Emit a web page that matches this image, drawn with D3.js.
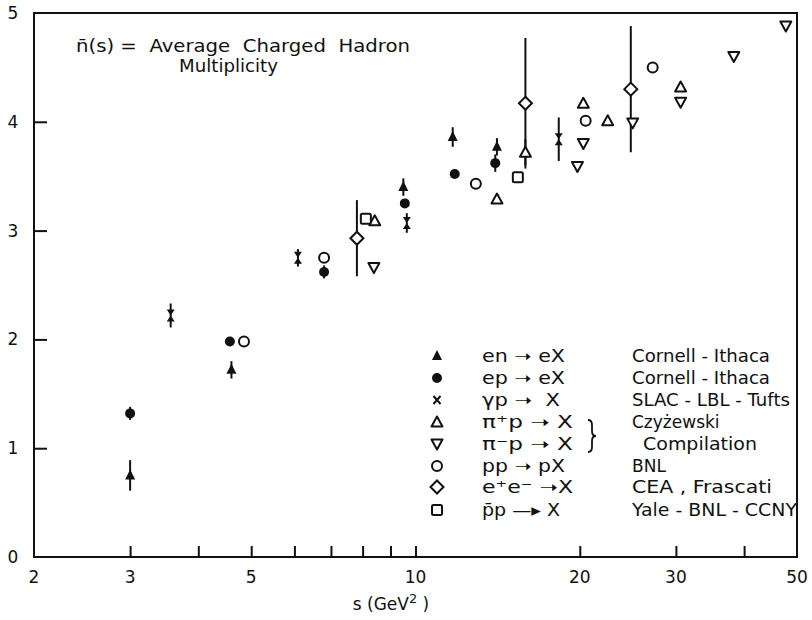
<!DOCTYPE html>
<html><head><meta charset="utf-8">
<script src="https://cdn.jsdelivr.net/npm/d3@7/dist/d3.min.js"></script>
<style>
body{margin:0;background:#fff}
text{font-family:"DejaVu Sans",sans-serif;fill:#111;white-space:pre}
</style>
</head><body>
<svg id="c" width="812" height="620"></svg>
<script>
// ---- data (s in GeV^2, n = average charged multiplicity) ----
const xTickValues = [3,4,5,6,7,8,9,10,20,30,40];
const xTickLabels = [2,3,5,10,20,30,50];
const yTickValues = [1,2,3,4];
const yTickLabels = [0,1,2,3,4,5];

const enS   = [3.0, 4.6, 9.5, 11.7, 14.1];
const enN   = [0.75, 1.72, 3.40, 3.86, 3.77];
const enErr = [0.14, 0.08, 0.08, 0.09, 0.08];

const epS   = [3.0, 4.57, 6.8, 9.56, 11.8, 14.0];
const epN   = [1.32, 1.98, 2.62, 3.25, 3.52, 3.62];
const epErr = [0.06, 0, 0.06, 0, 0, 0.08];

const gpS   = [3.56, 6.09, 9.64, 18.3];
const gpN   = [2.22, 2.75, 3.07, 3.84];
const gpErr = [0.11, 0.08, 0.09, 0.2];

const pipS  = [8.42, 14.1, 15.9, 20.3, 22.5, 30.6];
const pipN  = [3.09, 3.29, 3.72, 4.17, 4.01, 4.32];
const pipErr= [0, 0, 0.12, 0, 0, 0];

const pimS  = [8.39, 19.8, 20.3, 25.0, 30.6, 38.3, 47.7];
const pimN  = [2.66, 3.59, 3.80, 3.99, 4.18, 4.60, 4.88];

const ppS   = [4.85, 6.8, 12.9, 20.5, 27.2];
const ppN   = [1.98, 2.75, 3.43, 4.01, 4.50];

const eeS   = [7.81, 15.9, 24.8];
const eeN   = [2.93, 4.17, 4.30];
const eeErr = [0.35, 0.6, 0.58];

const pbS   = [8.11, 15.4];
const pbN   = [3.11, 3.49];

const legendReactions = ["en \u279D eX", "ep \u279D eX", "\u03B3p \u279D  X", "\u03C0\u207Ap \u279D X", "\u03C0\u207Bp \u279D X", "pp \u279D pX", "e\u207Ae\u207B \u279DX", "p\u0304p \u2014\u25B8 X"];
const legendSources = ["Cornell - Ithaca", "Cornell - Ithaca", "SLAC - LBL - Tufts", "Czy\u017Cewski", " Compilation", "BNL", "CEA , Frascati", "Yale - BNL - CCNY"];

// ---- drawing ----
const svg = d3.select("#c");
const x = d3.scaleLog().domain([2, 50]).range([34, 797]);
const y = d3.scaleLinear().domain([0, 5]).range([557, 13]);
const ink = "#111";

// frame
svg.append("rect").attr("x", x(2)).attr("y", y(5))
  .attr("width", x(50) - x(2)).attr("height", y(0) - y(5))
  .attr("fill", "none").attr("stroke", ink).attr("stroke-width", 2);

// ticks (inside)
const xAxis = d3.axisBottom(x).tickValues(xTickValues).tickSize(-11).tickFormat("");
const gx = svg.append("g").attr("transform", `translate(0,${y(0)})`).call(xAxis);
gx.select(".domain").remove();
gx.selectAll("line").attr("stroke", ink).attr("stroke-width", 2);

const yAxis = d3.axisLeft(y).tickValues(yTickValues).tickSize(-13).tickFormat("");
const gy = svg.append("g").attr("transform", `translate(${x(2)},0)`).call(yAxis);
gy.select(".domain").remove();
gy.selectAll("line").attr("stroke", ink).attr("stroke-width", 2);

// tick labels
svg.selectAll("text.xl").data(xTickLabels).join("text").attr("class", "xl")
  .attr("x", d => x(d)).attr("y", 577).attr("dy", "0.35em")
  .attr("text-anchor", "middle").attr("font-size", 17).text(d => d);
svg.selectAll("text.yl").data(yTickLabels).join("text").attr("class", "yl")
  .attr("x", 13).attr("y", d => y(d)).attr("dy", "0.35em")
  .attr("text-anchor", "middle").attr("font-size", 17).text(d => d);

// axis title
const xt = svg.append("text").attr("x", 391).attr("y", 604).attr("dy", "0.35em")
  .attr("text-anchor", "middle").attr("font-size", 17);
xt.append("tspan").text("s (GeV");
xt.append("tspan").attr("dy", -7).attr("font-size", 13).text("2");
xt.append("tspan").attr("dy", 7).text(" )");

// title
svg.append("text").attr("x", 76).attr("y", 46).attr("dy", "0.35em").attr("font-size", 17)
  .attr("textLength", 334).attr("lengthAdjust", "spacingAndGlyphs")
  .text("n\u0304(s) =  Average  Charged  Hadron");
svg.append("text").attr("x", 179).attr("y", 66).attr("dy", "0.35em").attr("font-size", 17)
  .attr("textLength", 99).attr("lengthAdjust", "spacingAndGlyphs").text("Multiplicity");

// marker shapes
function drawMarker(g, type, cx, cy) {
  const sw = 2;
  if (type === "triF") {
    g.append("path").attr("d", `M${cx},${cy-6}L${cx+5},${cy+4}L${cx-5},${cy+4}Z`).attr("fill", ink);
  } else if (type === "circF") {
    g.append("circle").attr("cx", cx).attr("cy", cy).attr("r", 5).attr("fill", ink);
  } else if (type === "hour") {
    g.append("path").attr("d", `M${cx-4},${cy-6}L${cx+4},${cy-6}L${cx},${cy}L${cx+4},${cy+6}L${cx-4},${cy+6}L${cx},${cy}Z`).attr("fill", ink);
  } else if (type === "triU") {
    g.append("path").attr("d", `M${cx},${cy-5.5}L${cx+5.5},${cy+4.5}L${cx-5.5},${cy+4.5}Z`).attr("fill", "#fff").attr("stroke", ink).attr("stroke-width", sw).attr("stroke-linejoin", "round");
  } else if (type === "triD") {
    g.append("path").attr("d", `M${cx},${cy+5.5}L${cx+5.5},${cy-4.5}L${cx-5.5},${cy-4.5}Z`).attr("fill", "#fff").attr("stroke", ink).attr("stroke-width", sw).attr("stroke-linejoin", "round");
  } else if (type === "circO") {
    g.append("circle").attr("cx", cx).attr("cy", cy).attr("r", 5).attr("fill", "#fff").attr("stroke", ink).attr("stroke-width", sw);
  } else if (type === "diam") {
    g.append("path").attr("d", `M${cx},${cy-6.5}L${cx+6.5},${cy}L${cx},${cy+6.5}L${cx-6.5},${cy}Z`).attr("fill", "#fff").attr("stroke", ink).attr("stroke-width", sw);
  } else if (type === "sq") {
    g.append("rect").attr("x", cx-5).attr("y", cy-5).attr("width", 10).attr("height", 10).attr("rx", 1.5)
      .attr("fill", "#fff").attr("stroke", ink).attr("stroke-width", sw);
  } else if (type === "xmark") {
    g.append("path").attr("d", `M${cx-3.5},${cy-4}L${cx+3.5},${cy+4}M${cx+3.5},${cy-4}L${cx-3.5},${cy+4}`).attr("stroke", ink).attr("stroke-width", 2);
  }
}

function series(sArr, nArr, errArr, type) {
  const g = svg.append("g");
  sArr.forEach((s, i) => {
    const e = errArr ? errArr[i] : 0;
    if (e > 0) {
      g.append("line").attr("x1", x(s)).attr("x2", x(s)).attr("y1", y(nArr[i] - e)).attr("y2", y(nArr[i] + e))
        .attr("stroke", ink).attr("stroke-width", 2);
    }
  });
  sArr.forEach((s, i) => drawMarker(g, type, x(s), y(nArr[i])));
}

series(eeS, eeN, eeErr, "diam");
series(enS, enN, enErr, "triF");
series(epS, epN, epErr, "circF");
series(gpS, gpN, gpErr, "hour");
series(pipS, pipN, pipErr, "triU");
series(pimS, pimN, null, "triD");
series(ppS, ppN, null, "circO");
series(pbS, pbN, null, "sq");

// legend
const legendTypes = ["triF", "circF", "xmark", "triU", "triD", "circO", "diam", "sq"];
const rowY = [356, 378, 400, 422, 444, 466, 487, 510];
const reactLen = [83, 83, 78, 91, 91, 83, 91, 78];
const srcLen = [138, 138, 158, 0, 114, 0, 140, 165];
const srcX = [632, 632, 632, 632, 643, 632, 632, 632];
const lg = svg.append("g");
legendTypes.forEach((t, i) => drawMarker(lg, t, 437, rowY[i]));
lg.selectAll("text.r").data(legendReactions).join("text").attr("class", "r")
  .attr("x", 482).attr("y", (d, i) => rowY[i]).attr("dy", "0.35em").attr("font-size", 17)
  .attr("textLength", (d, i) => reactLen[i]).attr("lengthAdjust", "spacingAndGlyphs").text(d => d);
lg.selectAll("text.s").data(legendSources).join("text").attr("class", "s")
  .attr("x", (d, i) => srcX[i]).attr("y", (d, i) => rowY[i]).attr("dy", "0.35em").attr("font-size", 17)
  .each(function(d, i) {
    if (srcLen[i] > 0) d3.select(this).attr("textLength", srcLen[i]).attr("lengthAdjust", "spacingAndGlyphs");
  })
  .text(d => d.trim());
// brace
lg.append("path").attr("d", "M588,420 Q592,420 592,425 L592,431 Q592,436 596,436 Q592,436 592,441 L592,447 Q592,452 588,452")
  .attr("fill", "none").attr("stroke", ink).attr("stroke-width", 1.8);
</script>
</body></html>
